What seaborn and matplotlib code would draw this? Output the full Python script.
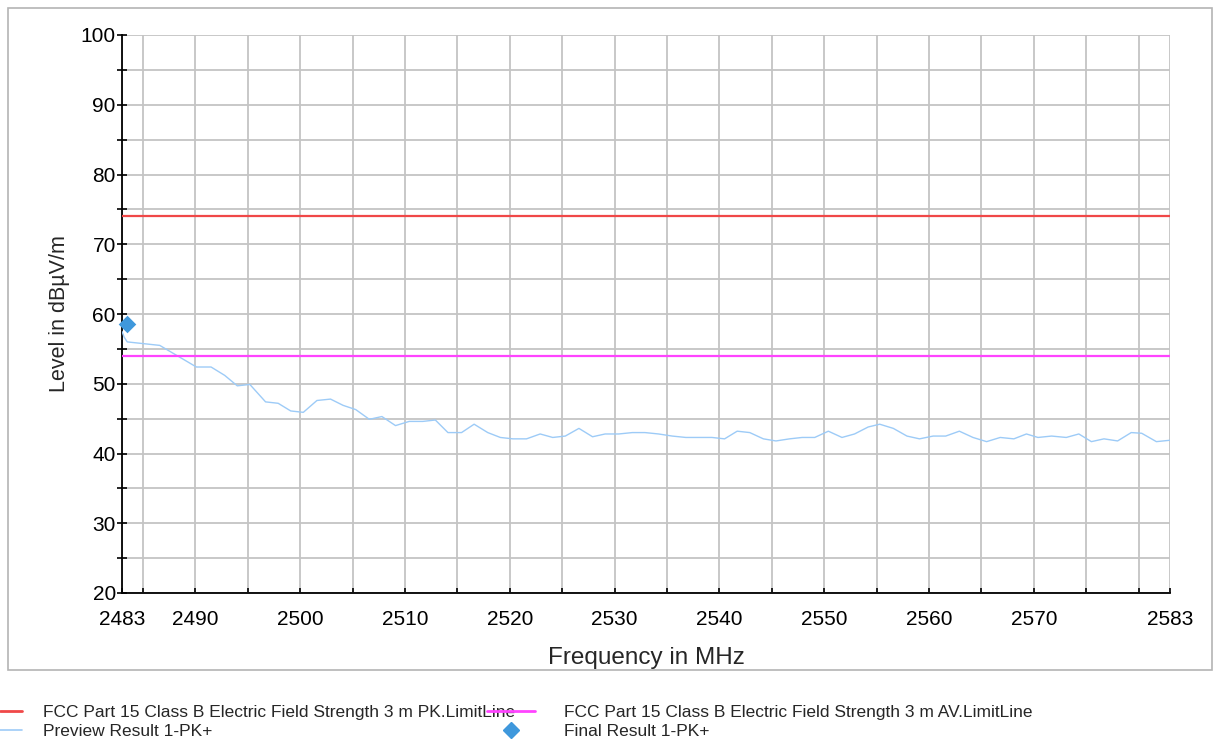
import matplotlib
matplotlib.use("Agg")
import matplotlib.pyplot as plt
import seaborn as sns
import pandas as pd
from matplotlib.lines import Line2D
from matplotlib.patches import Rectangle

# ---- data ----
preview_freq = [2483.0, 2483.2, 2483.5, 2486.6, 2490.1, 2491.5, 2492.8, 2494.0, 2495.2,
                2496.7, 2497.9, 2499.1, 2500.3, 2501.6, 2502.9, 2504.1, 2505.3, 2506.6, 2507.8,
                2509.1, 2510.4, 2511.7, 2512.9, 2514.1, 2515.4, 2516.6, 2517.9, 2519.1, 2520.3,
                2521.6, 2522.9, 2524.1, 2525.3, 2526.6, 2527.9, 2529.1, 2530.4, 2531.7, 2532.9,
                2534.2, 2535.5, 2536.8, 2538.0, 2539.3, 2540.5, 2541.7, 2542.9, 2544.2, 2545.4,
                2546.7, 2547.9, 2549.1, 2550.4, 2551.7, 2552.9, 2554.2, 2555.3, 2556.6, 2557.9,
                2559.1, 2560.4, 2561.6, 2562.9, 2564.2, 2565.5, 2566.8, 2568.1, 2569.3, 2570.4,
                2571.7, 2573.1, 2574.3, 2575.5, 2576.7, 2578.0, 2579.3, 2580.3, 2581.7, 2583.0]
preview_level = [57.5, 56.7, 56.0, 55.5, 52.4, 52.4, 51.2, 49.7, 49.9,
                 47.4, 47.2, 46.1, 45.9, 47.6, 47.8, 46.9, 46.3, 44.9, 45.3,
                 44.0, 44.6, 44.6, 44.8, 43.0, 43.0, 44.2, 43.0, 42.3, 42.1,
                 42.1, 42.8, 42.3, 42.5, 43.6, 42.4, 42.8, 42.8, 43.0, 43.0,
                 42.8, 42.5, 42.3, 42.3, 42.3, 42.1, 43.2, 43.0, 42.1, 41.8,
                 42.1, 42.3, 42.3, 43.2, 42.3, 42.8, 43.8, 44.2, 43.6, 42.5,
                 42.1, 42.5, 42.5, 43.2, 42.3, 41.7, 42.3, 42.1, 42.8, 42.3,
                 42.5, 42.3, 42.8, 41.7, 42.1, 41.8, 43.0, 42.9, 41.7, 41.9]

limit_freq = [2483, 2583]
limit_pk = [74, 74]
limit_av = [54, 54]

final_freq = [2483.5]
final_level = [58.6]

x_tick_labels = [2483, 2490, 2500, 2510, 2520, 2530, 2540, 2550, 2560, 2570, 2583]
y_tick_labels = [20, 30, 40, 50, 60, 70, 80, 90, 100]

label_pk = "FCC Part 15 Class B Electric Field Strength 3 m PK.LimitLine"
label_av = "FCC Part 15 Class B Electric Field Strength 3 m AV.LimitLine"
label_prev = "Preview Result 1-PK+"
label_final = "Final Result 1-PK+"

# ---- style ----
sns.set_theme(style="white")
plt.rcParams['font.family'] = ['Liberation Sans', 'DejaVu Sans']

C_PK = "#F04848"
C_AV = "#FF44FF"
C_PREV = "#9DCBF7"
C_FINAL = "#3F98DC"
C_GRID = "#C4C4C4"

fig = plt.figure(figsize=(12.17, 7.40), dpi=100)
ax = fig.add_axes([122 / 1217, 1 - 593 / 740, (1170 - 122) / 1217, (593 - 35) / 740])

# outer frame
fig.patches.append(Rectangle((8 / 1217, 1 - 670 / 740), (1212 - 8) / 1217, (670 - 8) / 740,
                             transform=fig.transFigure, fill=False, edgecolor="#B4B4B4",
                             linewidth=1.2, zorder=0))

df_prev = pd.DataFrame({"f": preview_freq, "L": preview_level})
df_pk = pd.DataFrame({"f": limit_freq, "L": limit_pk})
df_av = pd.DataFrame({"f": limit_freq, "L": limit_av})
df_fin = pd.DataFrame({"f": final_freq, "L": final_level})

sns.lineplot(data=df_prev, x="f", y="L", ax=ax, color=C_PREV, linewidth=1.0, zorder=3,
             estimator=None, sort=False)
sns.lineplot(data=df_pk, x="f", y="L", ax=ax, color=C_PK, linewidth=1.6, zorder=4)
sns.lineplot(data=df_av, x="f", y="L", ax=ax, color=C_AV, linewidth=1.6, zorder=4)
sns.scatterplot(data=df_fin, x="f", y="L", ax=ax, color=C_FINAL, marker="D", s=80,
                linewidth=0, zorder=5, clip_on=False)

ax.set_xlim(2483, 2583)
ax.set_ylim(20, 100)

ax.set_xticks(x_tick_labels)
ax.set_xticklabels([str(v) for v in x_tick_labels], fontsize=15)
ax.set_xticks([v for v in range(2485, 2585, 5)], minor=True)
ax.set_yticks(y_tick_labels)
ax.set_yticklabels([str(v) for v in y_tick_labels], fontsize=15)
ax.set_yticks(list(range(25, 100, 10)), minor=True)

ax.grid(True, which="both", color=C_GRID, linewidth=1.3)
ax.set_axisbelow(True)

ax.tick_params(axis="y", which="both", direction="inout", length=7, width=1.2,
               colors="black", pad=1, left=True)
ax.tick_params(axis="x", which="both", direction="in", length=3.5, width=1.2,
               colors="black", pad=12, bottom=True)

for s in ["top", "right"]:
    ax.spines[s].set_visible(False)
for s in ["left", "bottom"]:
    ax.spines[s].set_color("black")
    ax.spines[s].set_linewidth(1.3)

ax.set_xlabel("Frequency in MHz", fontsize=17.5, labelpad=13)
ax.set_ylabel("Level in dBµV/m", fontsize=15.5, labelpad=8)

# legends
h1 = [Line2D([], [], color=C_PK, linewidth=2), Line2D([], [], color=C_PREV, linewidth=1.2)]
leg1 = fig.legend(h1, [label_pk, label_prev], loc="upper left",
                  bbox_to_anchor=(0.0, 1 - 705 / 740), frameon=False, fontsize=12.5,
                  handlelength=1.25, handletextpad=1.25, borderpad=0, borderaxespad=0,
                  labelspacing=0.22)
h2 = [Line2D([], [], color=C_AV, linewidth=2),
      Line2D([], [], color=C_FINAL, marker="D", linestyle="none", markersize=8)]
leg2 = fig.legend(h2, [label_av, label_final], loc="upper left",
                  bbox_to_anchor=(487 / 1217, 1 - 705 / 740), frameon=False, fontsize=12.5,
                  handlelength=2.75, handletextpad=1.7, borderpad=0, borderaxespad=0,
                  labelspacing=0.22)

fig.savefig("out.png", dpi=100)
